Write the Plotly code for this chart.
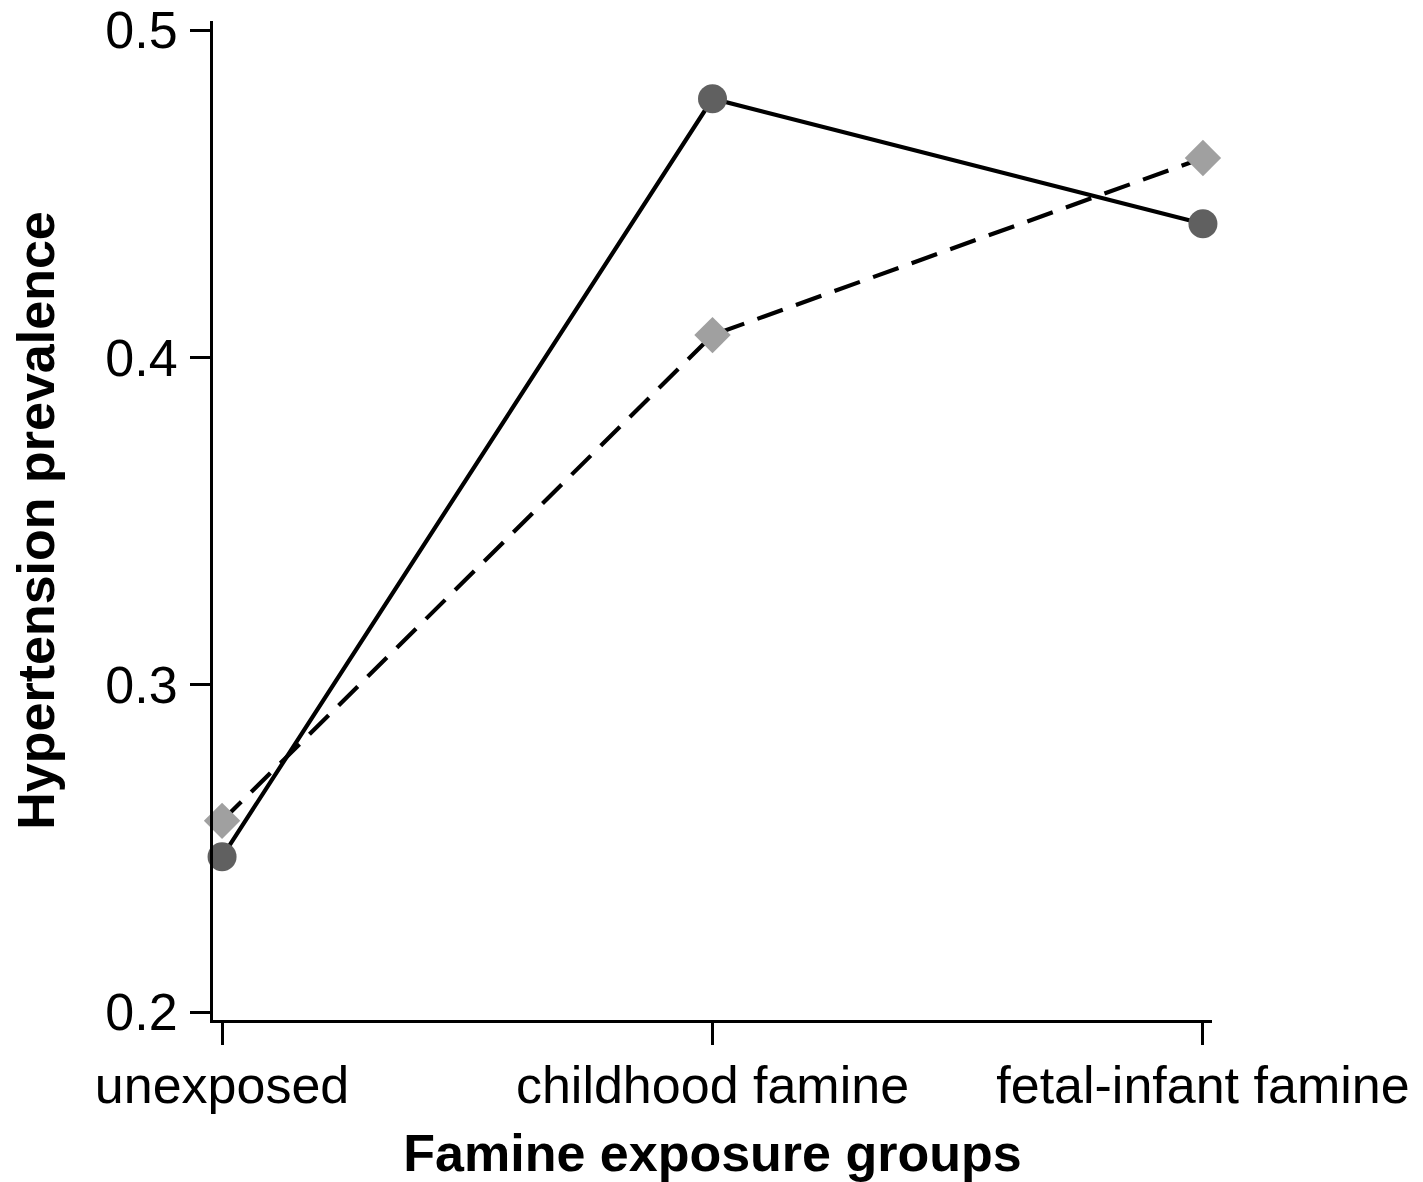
import plotly.graph_objects as go

categories = ["unexposed", "childhood famine", "fetal-infant famine"]
series_solid = [0.2474, 0.4790, 0.4408]
series_dashed = [0.2584, 0.4068, 0.4609]
y_ticks = [0.2, 0.3, 0.4, 0.5]
y_tick_labels = ["0.2", "0.3", "0.4", "0.5"]

x_idx = list(range(len(categories)))
FONT = "Liberation Sans, Arial, Helvetica, sans-serif"

fig = go.Figure()
fig.add_trace(go.Scatter(
    x=x_idx, y=series_dashed, mode="lines+markers",
    line=dict(color="black", width=4.2, dash="27px,14px"),
    marker=dict(symbol="diamond", size=28, color="#a0a0a0"),
    cliponaxis=False, showlegend=False,
))
fig.add_trace(go.Scatter(
    x=x_idx, y=series_solid, mode="lines+markers",
    line=dict(color="black", width=4.2),
    marker=dict(symbol="circle", size=29, color="#606060"),
    cliponaxis=False, showlegend=False,
))

fig.update_layout(
    width=1423, height=1182,
    margin=dict(l=213, r=211, t=21, b=162),
    paper_bgcolor="white", plot_bgcolor="white",
    font=dict(family=FONT, color="black", size=52),
)
fig.update_xaxes(
    range=[-0.0185, 2.0185],
    tickmode="array", tickvals=x_idx, ticktext=categories,
    showgrid=False, zeroline=False,
    showline=True, linecolor="black", linewidth=3,
    ticks="outside", ticklen=22, tickwidth=3, tickcolor="black",
    tickfont=dict(size=52, family=FONT),
    ticklabelstandoff=-4,
    automargin=False,
    title=dict(text="<b>Famine exposure groups</b>", font=dict(size=52, family=FONT), standoff=22),
)
fig.update_yaxes(
    range=[0.19756, 0.50275],
    tickmode="array", tickvals=y_ticks, ticktext=y_tick_labels,
    showgrid=False, zeroline=False,
    showline=True, linecolor="black", linewidth=3,
    ticks="outside", ticklen=20, tickwidth=3, tickcolor="black",
    tickfont=dict(size=52, family=FONT),
    ticklabelstandoff=2,
    automargin=False,
    title=dict(text="<b>Hypertension prevalence</b>", font=dict(size=52, family=FONT), standoff=35),
)

fig.write_html("out.html")
